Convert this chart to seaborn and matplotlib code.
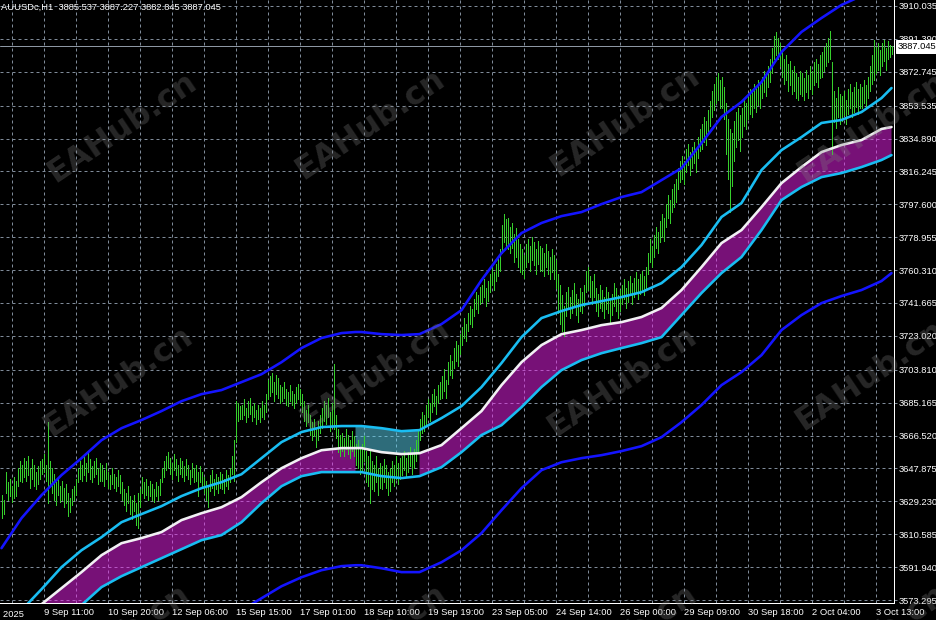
import numpy as np
import pandas as pd
import matplotlib
matplotlib.use("Agg")
import matplotlib.pyplot as plt
import seaborn as sns

# header / quote
symbol_info = "AUUSDc,H1  3885.537 3887.227 3882.845 3887.045"
last_price = 3887.045

# H1 bars (high / low), one bar per 2px column
bar_high = [
    3633, 3630, 3646, 3640, 3642, 3638, 3643, 3641, 3648, 3652,
    3650, 3654, 3652, 3655, 3648, 3653, 3650, 3646, 3649, 3652,
    3653, 3656, 3650, 3674, 3652, 3648, 3645, 3640, 3643, 3638,
    3641, 3637, 3639, 3634, 3631, 3636, 3638, 3642, 3648, 3652,
    3650, 3655, 3651, 3658, 3653, 3649, 3652, 3654, 3648, 3651,
    3650, 3647, 3651, 3646, 3644, 3648, 3645, 3643, 3647, 3644,
    3640, 3636, 3634, 3638, 3632, 3630, 3633, 3628, 3634, 3636,
    3643, 3640, 3642, 3638, 3641, 3639, 3636, 3640, 3638, 3642,
    3648, 3652, 3655, 3657, 3654, 3651, 3656, 3653, 3650, 3654,
    3652, 3649, 3653, 3650, 3647, 3651, 3648, 3650, 3646, 3649,
    3646, 3643, 3641, 3638, 3644, 3647, 3642, 3645, 3643, 3646,
    3645, 3642, 3647, 3644, 3648, 3655, 3664, 3686, 3685, 3683,
    3684, 3687, 3682, 3686, 3688, 3683, 3685, 3681, 3684, 3682,
    3686, 3684, 3690, 3698, 3700, 3702, 3697, 3701, 3699, 3695,
    3694, 3697, 3693, 3691, 3695, 3692, 3690, 3694, 3696, 3693,
    3690, 3686, 3681, 3684, 3678, 3674, 3676, 3671, 3675, 3678,
    3682, 3686, 3684, 3688, 3680, 3685, 3707, 3678, 3670, 3667,
    3668, 3665, 3670, 3667, 3664, 3669, 3666, 3662, 3664, 3660,
    3662, 3666, 3658, 3655, 3658, 3652, 3650, 3655, 3648, 3651,
    3649, 3653, 3650, 3646, 3648, 3652, 3650, 3655, 3651, 3654,
    3655, 3658, 3654, 3657, 3660, 3656, 3659, 3664, 3670, 3676,
    3680, 3678, 3684, 3687, 3685, 3690, 3693, 3689, 3695, 3697,
    3700, 3704, 3698, 3708, 3712, 3709, 3716, 3720, 3718, 3724,
    3728, 3733, 3730, 3736, 3740, 3738, 3744, 3748, 3746, 3751,
    3752, 3755, 3750, 3754, 3758, 3762, 3759, 3764, 3768, 3772,
    3786, 3792, 3789, 3790, 3785, 3787, 3781, 3784, 3778, 3775,
    3772, 3769, 3775, 3778, 3774, 3779, 3776, 3772, 3777, 3774,
    3773, 3770, 3775, 3771, 3768, 3772, 3769, 3766, 3758, 3752,
    3746, 3740, 3748, 3751, 3745, 3749, 3753, 3747, 3744, 3750,
    3748, 3752, 3760, 3762, 3757, 3754, 3758, 3750, 3747, 3752,
    3749, 3745, 3751, 3748, 3744, 3747, 3753, 3750, 3746, 3749,
    3752, 3755, 3750, 3754, 3757, 3753, 3756, 3759, 3755, 3758,
    3760, 3757, 3762, 3770, 3778, 3774, 3780, 3785, 3782, 3788,
    3792, 3790, 3798, 3803, 3800, 3806, 3809, 3812, 3818, 3822,
    3825, 3822, 3829, 3832, 3827, 3830, 3833, 3829, 3836, 3840,
    3843, 3847, 3845, 3851, 3856, 3862, 3866, 3870, 3872, 3868,
    3870, 3864, 3855, 3846, 3840, 3838, 3845, 3850, 3852, 3848,
    3852, 3857, 3855, 3860, 3863, 3861, 3866, 3864, 3868, 3866,
    3870, 3873, 3871, 3876, 3880, 3886, 3893, 3895, 3892, 3889,
    3884, 3880, 3882, 3877, 3879, 3874, 3876, 3872, 3870, 3873,
    3872, 3869, 3874, 3871, 3876, 3873, 3878, 3880, 3877, 3882,
    3884, 3887, 3889, 3892, 3896, 3878, 3862, 3858, 3864, 3860,
    3859, 3862, 3857, 3863, 3866, 3861, 3864, 3867, 3863, 3866,
    3864, 3868, 3865, 3870, 3876, 3882, 3891, 3887, 3889, 3885,
    3889, 3891, 3886, 3890, 3888, 3887.227,
]
bar_low = [
    3620, 3622, 3634, 3630, 3632, 3629, 3631, 3632, 3638, 3641,
    3640, 3643, 3641, 3644, 3637, 3642, 3638, 3636, 3639, 3642,
    3645, 3646, 3641, 3628, 3638, 3634, 3630, 3627, 3633, 3629,
    3630, 3626, 3628, 3621, 3623, 3627, 3630, 3633, 3640, 3642,
    3641, 3644, 3641, 3646, 3642, 3640, 3643, 3645, 3639, 3641,
    3641, 3638, 3642, 3637, 3636, 3639, 3637, 3635, 3638, 3634,
    3630, 3627, 3624, 3628, 3622, 3619, 3624, 3616, 3614, 3626,
    3634, 3631, 3633, 3630, 3632, 3630, 3629, 3632, 3630, 3633,
    3640, 3643, 3647, 3648, 3645, 3642, 3647, 3644, 3641, 3645,
    3643, 3641, 3644, 3642, 3639, 3643, 3640, 3641, 3632, 3640,
    3637, 3634, 3630, 3626, 3635, 3637, 3633, 3636, 3634, 3637,
    3636, 3634, 3638, 3636, 3640, 3645, 3641, 3663, 3675, 3676,
    3676, 3678, 3674, 3677, 3679, 3675, 3677, 3673, 3676, 3674,
    3677, 3676, 3680, 3687, 3689, 3691, 3686, 3690, 3688, 3685,
    3686, 3688, 3684, 3683, 3686, 3684, 3682, 3685, 3687, 3684,
    3680, 3675, 3672, 3674, 3667, 3664, 3666, 3660, 3664, 3668,
    3671, 3675, 3673, 3677, 3669, 3672, 3670, 3665, 3657, 3655,
    3658, 3655, 3659, 3656, 3654, 3658, 3655, 3650, 3648, 3645,
    3646, 3652, 3640, 3638, 3628, 3636, 3635, 3640, 3633, 3637,
    3636, 3640, 3637, 3633, 3635, 3640, 3638, 3642, 3639, 3642,
    3644, 3647, 3643, 3646, 3649, 3645, 3648, 3652, 3658, 3664,
    3668, 3669, 3673, 3677, 3675, 3680, 3683, 3679, 3685, 3687,
    3688, 3692, 3688, 3696, 3701, 3699, 3705, 3709, 3706, 3713,
    3718, 3722, 3720, 3726, 3730, 3728, 3734, 3738, 3736, 3741,
    3742, 3745, 3740, 3743, 3748, 3752, 3749, 3754, 3757, 3760,
    3770, 3776, 3774, 3772, 3770, 3773, 3765, 3768, 3762, 3759,
    3758, 3756, 3762, 3765, 3760, 3766, 3763, 3758, 3764, 3760,
    3760, 3757, 3762, 3758, 3755, 3759, 3755, 3750, 3736, 3730,
    3726, 3723, 3734, 3738, 3733, 3736, 3740, 3735, 3731, 3737,
    3736, 3740, 3748, 3749, 3745, 3741, 3745, 3737, 3734, 3739,
    3737, 3733, 3738, 3736, 3731, 3735, 3740, 3737, 3733, 3737,
    3741, 3744, 3739, 3742, 3746, 3741, 3745, 3748, 3744, 3747,
    3748, 3746, 3750, 3758, 3765, 3762, 3768, 3773, 3770, 3776,
    3779, 3777, 3785, 3790, 3787, 3793, 3796, 3799, 3806, 3810,
    3812, 3809, 3816, 3820, 3814, 3818, 3821, 3816, 3824, 3828,
    3829, 3833, 3831, 3838, 3842, 3847, 3851, 3855, 3857, 3852,
    3852, 3846, 3826, 3812, 3793, 3808, 3822, 3830, 3834, 3828,
    3836, 3842, 3840, 3846, 3849, 3847, 3852, 3850, 3854, 3852,
    3858, 3861, 3859, 3864, 3867, 3872, 3880, 3882, 3880, 3876,
    3870, 3866, 3868, 3862, 3865, 3860, 3862, 3858, 3857, 3860,
    3859, 3857, 3861, 3858, 3863, 3860, 3865, 3867, 3864, 3869,
    3870, 3873, 3876, 3878, 3880, 3826, 3844, 3841, 3847, 3843,
    3845, 3848, 3843, 3849, 3852, 3847, 3850, 3853, 3849, 3852,
    3852, 3855, 3853, 3858, 3862, 3866, 3868, 3872, 3874, 3871,
    3876, 3879, 3874, 3880, 3881, 3882.845,
]

# channel indicator, sampled at these bar numbers
band_bar = [0, 10, 20, 30, 40, 50, 60, 70, 80, 90, 100, 110, 120, 130, 140, 150, 160, 170,
            177, 180, 190, 200, 209, 220, 230, 240, 250, 260, 270, 280, 290, 300, 310,
            320, 330, 340, 350, 360, 370, 380, 390, 400, 410, 420, 430, 440, 445]
mid_line = [3550.5, 3561.3, 3570.9, 3580.0, 3589.1, 3598.7, 3605.5, 3608.4, 3611.8, 3618.6,
            3622.5, 3625.9, 3631.6, 3640.1, 3648.0, 3653.7, 3658.2, 3659.4, 3659.4, 3659.4,
            3657.1, 3656.0, 3656.5, 3661.1, 3670.7, 3680.4, 3695.1, 3708.1, 3717.8, 3724.0,
            3726.3, 3729.1, 3730.8, 3733.7, 3738.8, 3749.0, 3762.0, 3775.6, 3783.0, 3796.0,
            3809.6, 3818.7, 3827.2, 3831.2, 3834.0, 3840.3, 3841.4]
inner_up = [3555.1, 3567.5, 3579.4, 3591.9, 3601.5, 3608.9, 3617.4, 3622.0, 3626.5, 3632.2,
            3636.7, 3640.1, 3644.6, 3653.7, 3662.8, 3668.5, 3671.3, 3671.9, 3671.9, 3671.9,
            3670.7, 3669.0, 3669.6, 3676.4, 3683.2, 3694.0, 3707.6, 3722.3, 3733.1, 3737.1,
            3740.5, 3742.7, 3745.0, 3747.8, 3752.9, 3762.0, 3774.5, 3790.4, 3798.3, 3817.0,
            3828.3, 3835.7, 3843.7, 3845.4, 3849.9, 3857.8, 3863.5]
inner_dn = [3534.6, 3544.8, 3552.8, 3560.7, 3570.4, 3580.6, 3586.8, 3591.9, 3597.0, 3602.1,
            3607.2, 3610.1, 3617.4, 3628.2, 3637.8, 3643.5, 3645.8, 3645.8, 3645.8, 3645.8,
            3643.5, 3642.4, 3643.5, 3648.6, 3657.1, 3666.8, 3672.4, 3682.6, 3694.0, 3703.6,
            3709.3, 3713.2, 3716.1, 3718.9, 3722.3, 3734.8, 3747.3, 3758.6, 3767.7, 3783.0,
            3800.0, 3807.4, 3813.0, 3815.3, 3818.7, 3822.7, 3825.5]
outer_up = [3602.7, 3619.7, 3632.7, 3644.1, 3653.7, 3663.9, 3670.7, 3675.3, 3680.4, 3686.0,
            3690.0, 3692.3, 3696.8, 3701.3, 3708.1, 3716.1, 3721.8, 3724.6, 3725.2, 3725.2,
            3724.0, 3723.5, 3724.0, 3729.7, 3737.6, 3754.6, 3769.9, 3781.3, 3787.0, 3790.9,
            3793.2, 3797.7, 3801.7, 3804.5, 3811.3, 3818.1, 3832.3, 3847.1, 3855.6, 3866.9,
            3883.9, 3895.3, 3903.2, 3910.6, 3915.7, 3920.2, 3921.9]
outer_dn = [3499.5, 3508.0, 3516.5, 3522.2, 3527.8, 3534.6, 3540.3, 3543.7, 3546.0, 3551.7,
            3556.2, 3560.7, 3567.5, 3574.3, 3581.1, 3586.2, 3590.2, 3592.5, 3593.0, 3593.0,
            3591.3, 3589.1, 3589.1, 3594.7, 3601.5, 3611.2, 3624.2, 3636.7, 3646.9, 3651.4,
            3653.7, 3655.4, 3657.7, 3660.5, 3665.6, 3674.1, 3683.8, 3695.1, 3702.5, 3712.1,
            3726.3, 3734.8, 3741.6, 3745.6, 3749.0, 3754.1, 3758.6]
flat_start, flat_end = 177, 209   # channel flat -> upper half hatched

price_ticks = [3910.035, 3891.390, 3872.745, 3853.535, 3834.890, 3816.245, 3797.600,
               3778.955, 3760.310, 3741.665, 3723.020, 3703.810, 3685.165, 3666.520,
               3647.875, 3629.230, 3610.585, 3591.940, 3573.295]
time_labels = ["8 Sep 2025", "9 Sep 11:00", "10 Sep 20:00", "12 Sep 06:00", "15 Sep 15:00",
               "17 Sep 01:00", "18 Sep 10:00", "19 Sep 19:00", "23 Sep 05:00", "24 Sep 14:00",
               "26 Sep 00:00", "29 Sep 09:00", "30 Sep 18:00", "2 Oct 04:00", "3 Oct 13:00"]
time_label_bar = [-13, 21, 53, 85, 117, 149, 181, 213, 245, 277, 309, 341, 373, 405, 437]

sns.set_theme(style="dark", rc={
    "figure.facecolor": "black", "axes.facecolor": "black",
    "axes.edgecolor": "white", "text.color": "white",
    "xtick.color": "white", "ytick.color": "white",
})
plt.rcParams["font.family"] = ["Liberation Sans", "DejaVu Sans"]
plt.rcParams["hatch.linewidth"] = 1.0

# 72 dpi: 1 pt == 1 px, so the 6-per-inch hatch unit gives exact 2px hatching
DPI = 72
fig = plt.figure(figsize=(936 / DPI, 620 / DPI), dpi=DPI)
ax = fig.add_axes([0, 17 / 620, 894 / 936, 603 / 620])
fs = 9.4

# grid
grid_kw = dict(color="#7f8b99", linestyle=(0, (3, 3)), linewidth=1, zorder=0)
for b in range(5, 446, 16):
    ax.axvline(b, **grid_kw)
for p in price_ticks:
    ax.axhline(p, **grid_kw)

bx = np.array(band_bar)
mid = np.array(mid_line)
up_mask = (bx <= flat_start) | (bx >= flat_end)
dn_mask = (bx >= flat_start) & (bx <= flat_end)
ax.fill_between(bx, inner_dn, mid, where=up_mask, facecolor="none", edgecolor="#ee22ee",
                hatch="|" * 6, linewidth=0, zorder=1)
ax.fill_between(bx, mid, inner_up, where=dn_mask, facecolor="none", edgecolor="#5cd8f5",
                hatch="|" * 6, linewidth=0, zorder=1)

# price bars
idx = np.arange(len(bar_high))
ax.vlines(idx, bar_low, bar_high, color="#36cf2c", linewidth=1, antialiased=False, zorder=1.5)

ax.axhline(last_price, color="#8d97a3", linewidth=1, zorder=1.2)

band_df = pd.DataFrame({"bar": band_bar, "outer_up": outer_up, "outer_dn": outer_dn,
                        "inner_up": inner_up, "inner_dn": inner_dn, "mid": mid_line})
band_df = band_df.melt(id_vars="bar", var_name="band", value_name="price")
band_colors = {"outer_up": "#1414ff", "outer_dn": "#1414ff", "inner_up": "#19bdf2",
               "inner_dn": "#19bdf2", "mid": "#f2f0f4"}
sns.lineplot(data=band_df, x="bar", y="price", hue="band", palette=band_colors,
             estimator=None, sort=False, linewidth=2.6, legend=False, ax=ax, zorder=3)

ax.set_xlim(-0.75, 446.25)
ax.set_ylim(3571.6, 3913.4)

# axes cosmetics
for s in ["top", "left"]:
    ax.spines[s].set_visible(False)
for s in ["right", "bottom"]:
    ax.spines[s].set_color("white")
    ax.spines[s].set_linewidth(1)
ax.yaxis.tick_right()
ax.set_yticks(price_ticks, [f"{p:.3f}" for p in price_ticks])
ax.set_xticks(time_label_bar[1:], time_labels[1:])
for lab in ax.get_xticklabels():
    lab.set_horizontalalignment("left")
ax.tick_params(axis="y", length=3, width=1, color="#7f8b99", pad=2, labelsize=fs, labelcolor="white")
ax.tick_params(axis="x", length=4, width=1, color="white", pad=1, labelsize=fs, labelcolor="white")
ax.set_xlabel("")
ax.set_ylabel("")
ax.grid(False)

ax.text(time_label_bar[0], -0.0117, time_labels[0], transform=ax.get_xaxis_transform(),
        ha="left", va="top", fontsize=fs, color="white", clip_on=False)

ax.text(1.004, last_price, f"{last_price:.3f}", transform=ax.get_yaxis_transform(),
        ha="left", va="center", fontsize=fs, color="black", clip_on=False, zorder=10,
        bbox=dict(facecolor="white", edgecolor="white", pad=1.6))

fig.text(1 / 936, 1 - 7 / 620, symbol_info, ha="left", va="center", fontsize=fs, color="white")

# watermark
for wx, wy in [(122, 128), (370, 125), (625, 122), (872, 128),
               (118, 382), (375, 375), (622, 382), (870, 376),
               (115, 640), (372, 640), (622, 640), (872, 640)]:
    fig.text(wx / 936, 1 - wy / 620, "EAHub.cn", rotation=34, ha="center", va="center",
             fontsize=32, fontweight="bold", color="#808080", alpha=0.3,
             family="DejaVu Sans", zorder=20)

fig.savefig("out.png", dpi=DPI, facecolor="black")
